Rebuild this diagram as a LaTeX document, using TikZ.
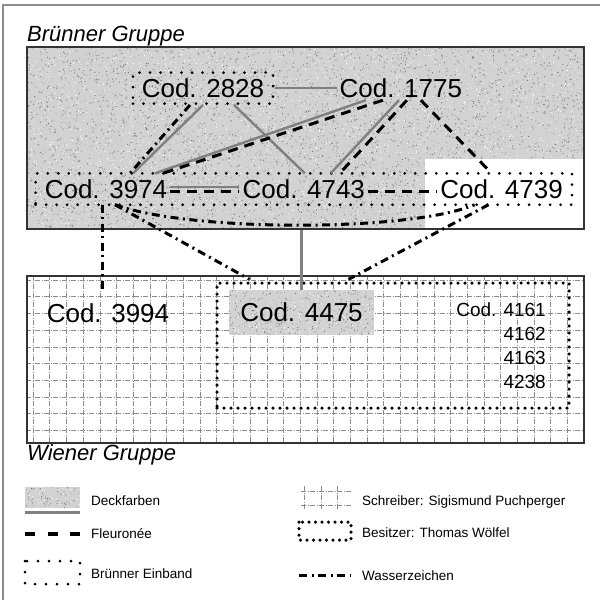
\documentclass[tikz,border=0pt]{standalone}
\usepackage{fontspec}
\setmainfont{Liberation Sans}
\usepackage{xcolor}
\definecolor{stipgray}{HTML}{D2D2D2}
\definecolor{linegray}{HTML}{808080}
\definecolor{framegray}{HTML}{8C8C8C}
\definecolor{boxline}{HTML}{333333}
\usetikzlibrary{positioning,fit}
\newcommand{\codfont}{\fontsize{26}{30}\selectfont}
\newcommand{\listfont}{\fontsize{19}{24}\selectfont}
\newcommand{\grpfont}{\fontsize{22}{26}\selectfont\itshape}
\newcommand{\legfont}{\fontsize{13.5}{16}\selectfont}
% stippled area: corners, number of dots
\newcommand{\stippelfeld}[5]{%
  \fill[stipgray] (#1,#2) rectangle (#3,#4);
  \foreach \k in {1,...,#5}{
    \fill[black!55] ({#1+(#3-#1)*rnd},{#2+(#4-#2)*rnd}) circle[radius=0.6pt];
    \fill[black!35] ({#1+(#3-#1)*rnd},{#2+(#4-#2)*rnd}) circle[radius=0.6pt];
    \fill[white] ({#1+(#3-#1)*rnd},{#2+(#4-#2)*rnd}) circle[radius=0.6pt];
  }}

\begin{document}
\begin{tikzpicture}[x=1pt, y=-1pt,
  cod/.style={font=\codfont, inner xsep=3pt, inner ysep=0pt, minimum height=31pt},
  einb/.style={draw, line width=3pt, line cap=round, dash pattern=on 0pt off 10.5pt},
  besitz/.style={draw, line width=3.5pt, line cap=round, dash pattern=on 0pt off 7pt},
  fleur/.style={line width=3pt, dash pattern=on 10pt off 7pt},
  wz/.style={line width=3pt, dash pattern=on 8pt off 4.5pt on 2pt off 4.5pt},
  deck/.style={draw=linegray, line width=2.4pt},
  raster/.style={draw=black!45, line width=0.6pt, dash pattern=on 5pt off 1.5pt on 1pt off 1.5pt},
  box/.style={draw=boxline, line width=1.8pt},
  leg/.style={font=\legfont, anchor=base west, inner sep=0pt}
]
\pgfmathsetseed{17}
\useasboundingbox (0,0) rectangle (600,600);
\draw[framegray, line width=1.5pt] (3,600) -- (3,5) -- (600,5);

% Bruenner Gruppe
\node[font=\grpfont, anchor=base west, inner sep=0pt] (bgtitel) at (27,41) {Brünner Gruppe};
\stippelfeld{26}{46}{583}{228}{2200}
\fill[white] (425,159) rectangle (583,228);
\node[box, minimum width=557pt, minimum height=182pt, anchor=north west] (bruenn) at (26,46) {};

\node[cod, einb, minimum width=140pt] (cod2828) at (203,88) {Cod. 2828};
\node[cod, minimum height=24pt, right=62pt of cod2828] (cod1775) {Cod. 1775};
\node[cod] (cod3974) at (106,189) {Cod. 3974};
\node[cod, right=69pt of cod3974] (cod4743) {Cod. 4743};
\node[cod, right=69pt of cod4743] (cod4739) {Cod. 4739};
\node[einb, fit=(cod3974)(cod4739), inner xsep=6pt, inner ysep=0pt] (reihe) {};

\draw[deck] (cod2828) -- (cod1775);
\draw[deck] (cod2828.south) -- ([xshift=27pt]cod3974.north);
\draw[wz] ([xshift=-13pt]cod2828.south) -- ([xshift=24pt]cod3974.north);
\draw[deck] ([xshift=31pt]cod2828.south) -- ([xshift=1pt]cod4743.north);
\draw[deck] ([xshift=-35pt]cod1775.south) -- ([xshift=49pt]cod3974.north);
\draw[fleur] ([xshift=-18pt]cod1775.south) -- ([xshift=57pt]cod3974.north);
\draw[deck] ([xshift=-2pt]cod1775.south) -- ([xshift=27pt]cod4743.north);
\draw[fleur] ([xshift=6pt]cod1775.south) -- ([xshift=36pt]cod4743.north);
\draw[fleur] ([xshift=20pt]cod1775.south) -- ([xshift=-10pt]cod4739.north);
\draw[deck] ([yshift=2pt]cod3974.east) -- ([yshift=2pt]cod4743.west);
\draw[fleur] ([yshift=-2pt]cod3974.east) -- ([yshift=-2pt]cod4743.west);
\draw[fleur] ([yshift=-2pt]cod4743.east) -- ([yshift=-2pt]cod4739.west);
\draw[wz] ([xshift=9pt]cod3974.south) .. controls (190,232) and (410,232) .. ([xshift=-27pt]cod4739.south);

% Wiener Gruppe
\fill[white] (26,275) rectangle (583,442);
\begin{scope}
  \clip (26,275) rectangle (583,442);
  \foreach \gx in {0,...,32}
    \draw[raster] ({33+16.7*\gx},275) -- ({33+16.7*\gx},442);
  \foreach \gy in {0,...,9}
    \draw[raster] (26,{280+16.7*\gy}) -- (583,{280+16.7*\gy});
\end{scope}
\node[box, minimum width=557pt, minimum height=167pt, anchor=north west] (wien) at (26,275) {};
\node[font=\grpfont, anchor=base west, inner sep=0pt] (wgtitel) at (27,460) {Wiener Gruppe};

\stippelfeld{229}{290}{374}{335}{160}
\node[besitz, minimum width=352pt, minimum height=125pt] (besitzer) at (393,345.5) {};
\node[cod, minimum width=145pt, minimum height=45pt] (cod4475) at (301.5,312.5) {Cod. 4475};
\node[cod, minimum height=42pt] (cod3994) at (108,313) {Cod. 3994};
\node[font=\listfont, align=right, anchor=north east, inner sep=0pt] (liste) at (546,303) {Cod. 4161\\4162\\4163\\4238};

\draw[deck] (cod4475.north |- bruenn.south) -- (cod4475.north);
\draw[wz, shorten >=4pt] ([xshift=9pt]cod3974.south) -- ([xshift=-140pt]besitzer.north);
\draw[wz, shorten >=4pt] ([xshift=-13pt]cod4739.south) -- ([xshift=-48pt]besitzer.north);
\draw[wz] ([xshift=-4pt]cod3974.south) -- ([xshift=-6pt]cod3994.north);

% Legende
\stippelfeld{25}{487}{80}{508}{30}
\draw[deck, line width=3pt] (25,512) -- (80,512);
\node[leg] (lgdeck) at (91,505) {Deckfarben};
\draw[fleur, line width=3.2pt, dash pattern=on 10pt off 12.5pt] (25,534) -- (80,534);
\node[leg] (lgfleur) at (91,538) {Fleuronée};
\draw[einb, dash pattern=on 0pt off 11pt] (25,561) rectangle (80,584);
\node[leg] (lgeinb) at (91,578) {Brünner Einband};

\draw[raster] (301,491) -- (352,491) (301,505) -- (352,505);
\draw[raster] (304,486) -- (304,509) (321,486) -- (321,509) (337,486) -- (337,509);
\node[leg] (lgschreib) at (362,505) {Schreiber: Sigismund Puchperger};
\draw[besitz, dash pattern=on 0pt off 6.5pt] (299,522) rectangle (351,540);
\node[leg] (lgbesitz) at (362,537) {Besitzer: Thomas Wölfel};
\draw[wz] (299,575) -- (351,575);
\node[leg] (lgwz) at (362,580) {Wasserzeichen};
\end{tikzpicture}
\end{document}
